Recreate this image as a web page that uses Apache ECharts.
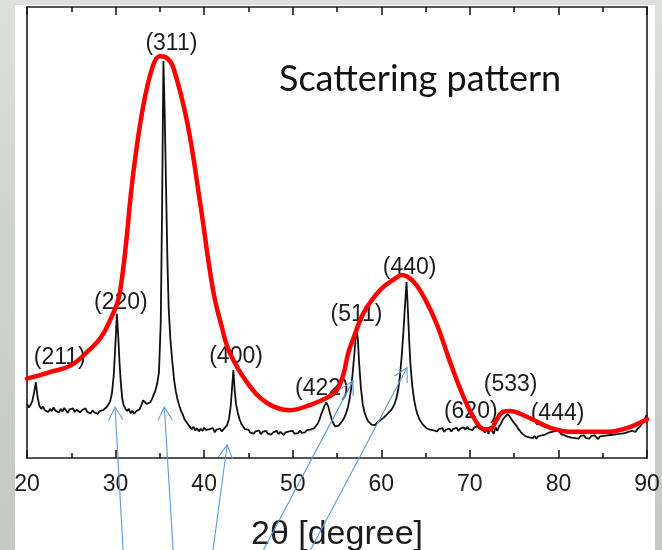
<!DOCTYPE html>
<html>
<head>
<meta charset="utf-8">
<script src="https://cdn.jsdelivr.net/npm/echarts@6/dist/echarts.min.js"></script>
<style>
  html, body { margin: 0; padding: 0; }
  #frame {
    position: relative; width: 662px; height: 550px; overflow: hidden;
    background: linear-gradient(180deg, #dde1dc 0%, #cfd4ce 40%, #c4cac3 100%);
  }
  #paper { position: absolute; left: 15px; top: 5px; width: 640px; height: 545px; background: #ffffff; }
  #chart { position: absolute; left: 0; top: 0; width: 662px; height: 550px; }
</style>
</head>
<body>
<div id="frame">
  <div id="paper"></div>
  <div id="chart"></div>
</div>
<script>
// Measured diffraction scan: 2θ (degree) and intensity (a.u.)
const scanAngle = [
  20.0,20.2,20.4,20.6,20.8,21.0,21.2,21.4,21.6,21.8,22.0,22.2,22.4,22.6,22.8,23.0,23.2,23.4,23.6,23.8,
  24.0,24.2,24.4,24.6,24.8,25.0,25.2,25.4,25.6,25.8,26.0,26.2,26.4,26.6,26.8,27.0,27.2,27.4,27.6,27.8,
  28.0,28.2,28.4,28.6,28.8,29.0,29.2,29.4,29.6,29.8,30.0,30.15,30.3,30.45,30.6,30.75,30.9,31.1,31.3,31.5,
  31.7,31.9,32.1,32.3,32.5,32.7,32.9,33.1,33.3,33.5,33.7,33.9,34.1,34.3,34.5,34.7,34.9,35.1,35.25,35.4,
  35.55,35.7,35.85,36.0,36.2,36.4,36.6,36.8,37.0,37.2,37.4,37.6,37.8,38.0,38.2,38.4,38.6,38.8,39.0,39.2,
  39.4,39.6,39.8,40.0,40.2,40.4,40.6,40.8,41.0,41.2,41.4,41.6,41.8,42.0,42.2,42.4,42.6,42.8,43.0,43.15,
  43.3,43.45,43.6,43.8,44.0,44.2,44.4,44.6,44.8,45.0,45.2,45.4,45.6,45.8,46.0,46.2,46.4,46.6,46.8,47.0,
  47.2,47.4,47.6,47.8,48.0,48.2,48.4,48.6,48.8,49.0,49.2,49.4,49.6,49.8,50.0,50.2,50.4,50.6,50.8,51.0,
  51.2,51.4,51.6,51.8,52.0,52.2,52.4,52.6,52.8,53.0,53.2,53.4,53.6,53.8,54.0,54.2,54.4,54.6,54.8,55.0,
  55.2,55.4,55.6,55.8,56.0,56.2,56.4,56.6,56.8,57.0,57.2,57.35,57.5,57.7,57.9,58.1,58.3,58.5,58.7,58.9,
  59.1,59.3,59.5,59.7,59.9,60.1,60.3,60.5,60.7,60.9,61.1,61.3,61.5,61.7,61.9,62.1,62.3,62.5,62.7,62.85,
  63.0,63.15,63.3,63.5,63.7,63.9,64.1,64.3,64.5,64.7,64.9,65.1,65.3,65.5,65.7,65.9,66.1,66.3,66.5,66.7,
  66.9,67.1,67.3,67.5,67.7,67.9,68.1,68.3,68.5,68.7,68.9,69.1,69.3,69.5,69.7,69.9,70.1,70.3,70.5,70.7,
  70.9,71.1,71.3,71.5,71.7,71.9,72.1,72.3,72.5,72.7,72.9,73.1,73.3,73.5,73.7,73.9,74.1,74.3,74.5,74.7,
  74.9,75.1,75.3,75.5,75.7,75.9,76.1,76.3,76.5,76.7,76.9,77.1,77.3,77.5,77.7,77.9,78.1,78.3,78.5,78.7,
  78.9,79.1,79.3,79.5,79.7,79.9,80.1,80.3,80.5,80.7,80.9,81.1,81.3,81.5,81.7,81.9,82.1,82.3,82.5,82.7,
  82.9,83.1,83.3,83.5,83.7,83.9,84.1,84.3,84.5,84.7,84.9,85.1,85.3,85.5,85.7,85.9,86.1,86.3,86.5,86.7,
  86.9,87.1,87.3,87.5,87.7,87.9,88.1,88.3,88.5,88.7,88.9,89.1,89.3,89.5,89.7,89.9,90.0
];
const scanCounts = [
  12.0,11.2,11.8,12.6,14.5,16.8,13.4,11.6,10.9,11.4,10.6,11.0,10.2,10.9,10.4,11.2,10.5,10.8,10.1,10.9,
  10.3,11.1,10.6,10.0,10.8,10.4,11.0,10.2,10.7,10.9,10.1,10.6,10.3,11.0,10.2,10.5,9.9,10.6,10.1,10.3,
  9.8,10.4,10.0,10.6,10.9,11.3,11.9,12.6,14.5,18.5,26.0,32.0,27.0,21.0,16.5,13.2,11.8,11.0,10.4,10.9,
  9.9,10.5,9.8,10.3,10.0,10.8,11.6,12.8,13.2,12.0,11.6,12.3,13.0,14.0,15.0,16.5,19.0,30.0,55.0,88.0,
  76.0,60.0,44.0,33.0,26.0,21.5,17.5,14.8,12.9,11.6,10.4,9.6,8.5,8.0,7.4,7.0,6.4,6.9,6.1,6.6,
  5.9,6.5,6.0,6.7,6.2,5.8,6.4,6.0,6.6,5.7,6.3,6.0,6.5,5.9,6.4,6.8,7.3,8.6,11.5,15.5,
  19.5,15.0,12.0,10.0,8.6,7.6,7.0,6.4,6.0,6.3,5.6,6.0,5.4,5.9,5.5,6.1,5.3,5.8,5.5,6.0,
  5.4,5.8,5.2,5.7,5.5,6.0,5.3,5.8,5.6,5.1,5.7,5.4,5.9,5.5,6.0,5.4,5.8,5.5,6.1,5.6,
  6.0,5.7,6.2,5.8,6.3,6.0,6.6,6.9,7.5,8.4,9.6,10.6,11.6,12.3,11.5,10.0,8.6,7.6,7.0,6.8,
  7.2,7.6,8.2,8.9,9.8,11.0,12.8,15.5,19.5,24.0,28.4,26.5,21.0,15.5,12.0,10.2,9.0,8.2,7.8,7.4,
  7.6,7.3,7.8,8.0,8.4,8.6,9.0,9.4,9.8,10.2,10.6,11.2,12.0,13.2,15.0,18.0,22.5,28.0,34.5,39.0,
  33.0,26.0,20.5,16.0,13.0,11.0,9.6,8.6,8.0,7.4,7.0,6.6,6.9,6.3,6.7,6.1,6.5,5.9,6.4,6.0,
  6.6,5.8,6.3,6.0,6.5,5.9,6.4,6.1,6.7,6.0,6.5,6.2,6.8,6.3,6.9,6.4,6.6,6.2,6.8,6.4,
  7.0,6.5,7.1,6.2,5.6,6.6,5.3,7.0,6.0,5.4,6.8,6.0,7.0,7.6,8.4,9.0,9.4,9.7,9.2,8.6,
  8.0,7.5,7.0,6.4,5.9,5.4,5.0,4.8,5.2,4.6,5.0,4.4,4.9,4.3,4.8,4.5,5.0,4.7,5.2,5.0,
  5.6,5.3,5.8,5.5,6.0,5.6,5.9,5.3,5.6,5.0,5.3,4.7,5.1,4.5,4.9,4.4,4.8,4.3,4.9,4.5,
  5.0,4.4,4.8,4.3,4.9,4.5,5.0,4.6,4.2,4.8,4.4,4.9,4.5,5.0,4.6,5.1,4.7,5.2,4.8,5.3,
  4.9,5.4,5.0,5.5,5.3,5.8,5.5,6.0,6.2,5.8,6.4,6.6,7.2,7.8,8.5,9.3,9.6
];

// Broad envelope traced over the scan
const fitAngle = [
  20.0,22.5,25.0,27.0,28.3,29.4,30.5,32.0,33.1,34.2,35.0,35.8,36.5,38.1,39.5,41.0,42.0,42.9,44.9,47.1,
  49.7,52.0,54.0,55.0,55.7,56.3,57.0,58.0,59.9,61.8,62.3,63.6,65.0,66.3,67.8,69.3,70.6,71.6,72.3,73.0,
  73.7,74.5,76.5,79.1,81.7,85.5,87.8,90.0
];
const fitCounts = [
  17.6,19.0,20.6,23.9,26.6,30.6,36.8,63.2,77.8,86.9,89.1,88.7,86.7,74.3,57.2,37.3,29.0,23.3,16.6,12.2,
  10.6,11.8,13.5,15.1,18.4,23.5,27.3,32.2,37.3,40.1,40.6,39.2,35.0,29.5,21.1,13.5,8.4,6.4,6.4,8.4,
  10.2,10.4,9.1,6.7,5.8,5.8,6.7,8.6
];

// Reflection indices and where their tags sit
const peakNames = ['(211)','(220)','(311)','(400)','(422)','(511)','(440)','(620)','(533)','(444)'];
const peakTagAngle = [23.7,30.6,36.3,43.6,53.3,57.2,63.2,70.1,74.6,79.9];
const peakTagLevel = [22.2,34.4,91.8,22.4,15.4,31.7,42.2,10.3,16.2,9.9];

// Pointer arrows: tail and head in (2θ, intensity)
const arrowTailAngle = [30.85,36.5,41.0,46.7,52.0];
const arrowTailLevel = [-20.4,-20.4,-20.4,-20.4,-20.4];
const arrowHeadAngle = [29.94,35.5,42.6,56.8,62.9];
const arrowHeadLevel = [11.3,11.3,2.9,17.1,20.0];

const xTicks = { min: 20, max: 90, step: 10 };

const FONT = '"Liberation Sans", Arial, Helvetica, sans-serif';
const INK = '#1c1c1c';

const chart = echarts.init(document.getElementById('chart'), null, { renderer: 'canvas' });

const frameAxisLine = { show: true, onZero: false, lineStyle: { color: INK, width: 1.6 } };

chart.setOption({
  animation: false,
  backgroundColor: 'transparent',
  title: {
    text: 'Scattering pattern',
    left: 274, top: 56,
    textStyle: { fontFamily: 'Lato, "Open Sans", sans-serif', fontWeight: 'normal', fontSize: 36, color: '#111' }
  },
  grid: { left: 27, right: 15, top: 7, bottom: 92, containLabel: false, outerBoundsMode: 'none' },
  xAxis: [
    {
      type: 'value', position: 'bottom',
      min: xTicks.min, max: xTicks.max, interval: xTicks.step,
      axisLine: frameAxisLine,
      axisTick: { show: true, inside: true, length: 8, lineStyle: { color: INK, width: 1.6 } },
      minorTick: { show: true, splitNumber: 2, length: 5, lineStyle: { color: INK, width: 1.6 } },
      splitLine: { show: false },
      axisLabel: { show: true, margin: 15, fontFamily: FONT, fontSize: 23, color: INK },
      name: '2θ [degree]', nameLocation: 'middle', nameGap: 60,
      nameTextStyle: { fontFamily: FONT, fontSize: 34, color: INK }
    },
    {
      type: 'value', position: 'top',
      min: xTicks.min, max: xTicks.max, interval: xTicks.step,
      axisLine: frameAxisLine,
      axisTick: { show: true, inside: true, length: 8, lineStyle: { color: INK, width: 1.6 } },
      minorTick: { show: true, splitNumber: 2, length: 5, lineStyle: { color: INK, width: 1.6 } },
      splitLine: { show: false },
      axisLabel: { show: false }
    }
  ],
  yAxis: [
    {
      type: 'value', position: 'left', min: 0, max: 100,
      axisLine: frameAxisLine, axisTick: { show: false }, axisLabel: { show: false }, splitLine: { show: false }
    },
    {
      type: 'value', position: 'right', min: 0, max: 100,
      axisLine: frameAxisLine, axisTick: { show: false }, axisLabel: { show: false }, splitLine: { show: false }
    }
  ],
  series: [
    {
      name: 'scan', type: 'line', z: 2,
      data: scanAngle.map((a, i) => [a, scanCounts[i]]),
      showSymbol: false, symbol: 'none',
      lineStyle: { color: '#111111', width: 1.8 }
    },
    {
      name: 'tags', type: 'scatter', z: 3,
      symbolSize: 0,
      itemStyle: { opacity: 1 },
      data: peakNames.map((n, i) => ({ name: n, value: [peakTagAngle[i], peakTagLevel[i]] })),
      label: {
        show: true, position: 'inside', formatter: p => p.name,
        fontFamily: FONT, fontSize: 23, color: INK, opacity: 1
      },
      silent: true
    },
    {
      name: 'envelope', type: 'line', z: 4,
      data: fitAngle.map((a, i) => [a, fitCounts[i]]),
      smooth: 0.4, showSymbol: false, symbol: 'none',
      lineStyle: { color: '#ff0000', width: 4.5, cap: 'round', join: 'round' }
    }
  ]
});

// Blue pointer arrows, placed through the chart's own coordinate conversion
function drawArrows() {
  const els = [];
  for (let i = 0; i < arrowHeadAngle.length; i++) {
    const tail = chart.convertToPixel({ gridIndex: 0 }, [arrowTailAngle[i], arrowTailLevel[i]]);
    const head = chart.convertToPixel({ gridIndex: 0 }, [arrowHeadAngle[i], arrowHeadLevel[i]]);
    const ang = Math.atan2(tail[1] - head[1], tail[0] - head[0]);
    const wing = 15, spread = 0.5;
    const w1 = [head[0] + wing * Math.cos(ang + spread), head[1] + wing * Math.sin(ang + spread)];
    const w2 = [head[0] + wing * Math.cos(ang - spread), head[1] + wing * Math.sin(ang - spread)];
    const style = { stroke: '#5b9bd5', lineWidth: 1.1, fill: null };
    els.push({ type: 'polyline', z: 100, silent: true, shape: { points: [tail, head] }, style });
    els.push({ type: 'polyline', z: 100, silent: true, shape: { points: [w1, head, w2] }, style });
  }
  chart.setOption({ graphic: els });
}
drawArrows();
</script>
</body>
</html>
